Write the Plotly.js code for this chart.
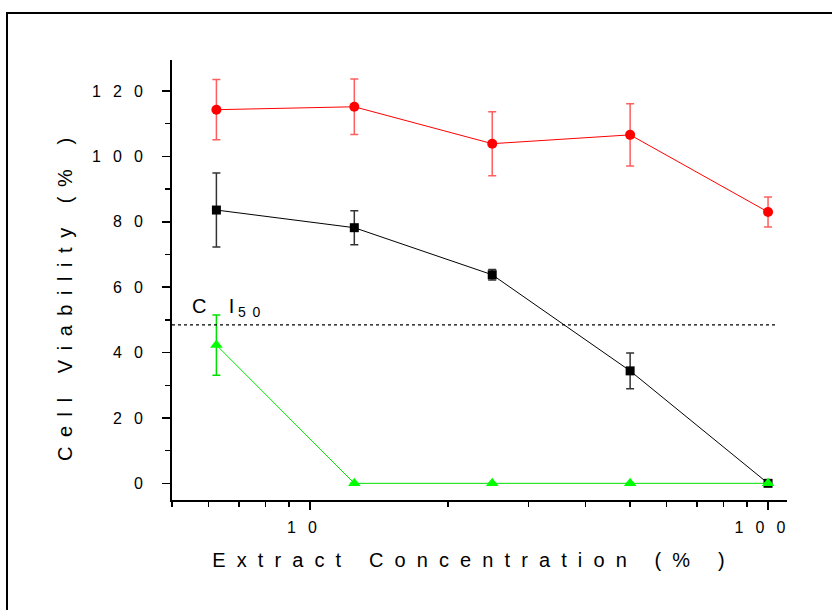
<!DOCTYPE html>
<html>
<head>
<meta charset="utf-8">
<script src="https://cdn.plot.ly/plotly-3.0.1.min.js"></script>
<style>
  html, body { margin: 0; padding: 0; background: #fff; }
  #wrap { position: relative; width: 832px; height: 610px; overflow: hidden; }
  #chart { width: 832px; height: 610px; }
  #frame { position: absolute; left: 6px; top: 12px; width: 900px; height: 700px;
           border-left: 2px solid #000; border-top: 2px solid #000; pointer-events: none; }
</style>
</head>
<body>
<div id="wrap"><div id="chart"></div><div id="frame"></div></div>
<script>
// ---- data ----
const concentration = [6.25, 12.5, 25, 50, 100];

const redValues   = [114.3, 115.2, 103.9, 106.6, 83.0];
const redErrors   = [9.2, 8.5, 9.8, 9.5, 4.6];

const blackValues = [83.6, 78.2, 63.8, 34.4, 0];
const blackErrors = [11.3, 5.2, 1.6, 5.5, 0];

const greenValues = [42.3, 0, 0, 0, 0];
const greenErrors = [9.2, 0, 0, 0, 0];

const ci50Value = 48.5;

const xTickValues = [10, 100];
const xTickLabels = ["10", "100"];
const xMinorValues = [5, 6, 7, 8, 9, 20, 30, 40, 50, 60, 70, 80, 90];
const yTickValues = [0, 20, 40, 60, 80, 100, 120];
const yTickLabels = ["0", "20", "40", "60", "80", "100", "120"];

const xTitleText = "Extract Concentration (% )";
const yTitleText = "Cell Viability (% )";

// ---- helpers for the wide letter spacing of the original ----
const NB = "\u00A0";
const TH = "\u2009";
const ZW = "\u200B";
function spread(s, gap, trail) {
  return s.split("").map(c => c === " " ? NB : c).join(gap) + (trail ? trail + ZW : "");
}

const FONT = "Arial, 'Liberation Sans', sans-serif";

const traces = [
  {
    x: concentration, y: blackValues, type: "scatter", mode: "lines+markers",
    line: { color: "#000", width: 1 },
    marker: { symbol: "square", size: 9, color: "#000" },
    error_y: { type: "data", array: blackErrors, visible: true, color: "#333", thickness: 1.5, width: 4 },
    showlegend: false, hoverinfo: "skip"
  },
  {
    x: concentration, y: redValues, type: "scatter", mode: "lines+markers",
    line: { color: "#ff0000", width: 1 },
    marker: { symbol: "circle", size: 10, color: "#ff0000" },
    error_y: { type: "data", array: redErrors, visible: true, color: "rgba(255,40,40,0.75)", thickness: 1.5, width: 4 },
    showlegend: false, hoverinfo: "skip"
  },
  {
    x: concentration, y: greenValues, type: "scatter", mode: "lines+markers",
    line: { color: "#00e000", width: 1 },
    marker: { symbol: "triangle-up", size: 11, color: "#00ff00" },
    error_y: { type: "data", array: greenErrors, visible: true, color: "#00e000", thickness: 1.5, width: 4 },
    showlegend: false, hoverinfo: "skip"
  }
];

const layout = {
  width: 832, height: 610,
  margin: { l: 172, r: 45, t: 60, b: 110 },
  paper_bgcolor: "#fff", plot_bgcolor: "#fff",
  font: { family: FONT, color: "#000", size: 16 },
  xaxis: {
    type: "log",
    range: [Math.log10(5), Math.log10(110)],
    showgrid: false, zeroline: false,
    showline: true, linecolor: "#000", linewidth: 2,
    ticks: "outside", ticklen: 8, tickwidth: 1.5, tickcolor: "#000",
    tickmode: "array", tickvals: xTickValues,
    ticktext: xTickLabels.map(t => spread(t, NB + NB + TH)),
    tickfont: { family: FONT, size: 16 },
    ticklabelstandoff: 4,
    ticklabelshift: -8,
    minor: { tickmode: "array", tickvals: xMinorValues, ticks: "outside", ticklen: 5, tickwidth: 1.5, tickcolor: "#000", showgrid: false },
    title: { text: spread(xTitleText, NB + NB, NB.repeat(4)), font: { family: FONT, size: 20 }, standoff: 18 }
  },
  yaxis: {
    range: [-5.1, 129.5],
    showgrid: false, zeroline: false,
    showline: true, linecolor: "#000", linewidth: 2,
    ticks: "outside", ticklen: 8, tickwidth: 1.5, tickcolor: "#000",
    tickmode: "array", tickvals: yTickValues,
    ticktext: yTickLabels.map(t => spread(t, NB + NB + TH)),
    tickfont: { family: FONT, size: 16 },
    ticklabelstandoff: 16,
    minor: { dtick: 10, ticks: "outside", ticklen: 5, tickwidth: 1.5, tickcolor: "#000", showgrid: false },
    title: { text: spread(yTitleText, NB + TH, NB.repeat(7)), font: { family: FONT, size: 20 }, standoff: 14 }
  },
  shapes: [
    { type: "line", xref: "paper", yref: "y", x0: 0, x1: 0.985, y0: ci50Value, y1: ci50Value,
      line: { color: "#000", width: 1.2, dash: "dot" } }
  ],
  annotations: [
    { xref: "paper", yref: "y", x: 0.03, y: ci50Value, xanchor: "left", yanchor: "bottom", yshift: 3,
      showarrow: false, font: { family: FONT, size: 20, color: "#000" },
      text: "C" + NB.repeat(4) + "I" + "<sub>" + NB + spread("50", NB + TH) + "</sub>" }
  ]
};

Plotly.newPlot("chart", traces, layout, { staticPlot: true, displayModeBar: false });
</script>
</body>
</html>
